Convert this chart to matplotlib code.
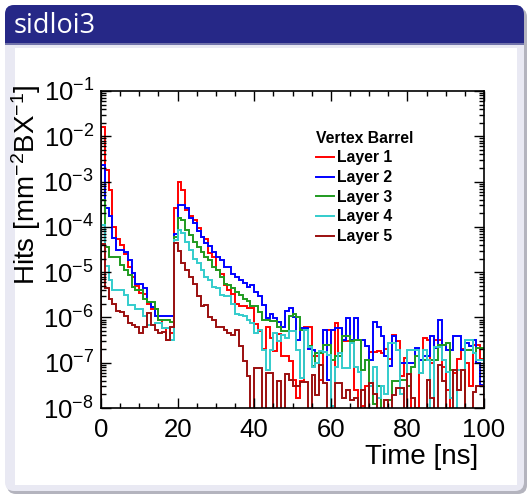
import numpy as np
import matplotlib
matplotlib.use("Agg")
import matplotlib.pyplot as plt
from matplotlib.patches import FancyBboxPatch, Rectangle
from matplotlib.transforms import IdentityTransform
from matplotlib.ticker import MultipleLocator, LogLocator, NullFormatter

# time bins, 1 ns each
bin_edges = list(range(0, 101))

layer_names = ["Layer 1", "Layer 2", "Layer 3", "Layer 4", "Layer 5"]
layer_colors = ["#ff0000", "#0000ff", "#1f9a1f", "#33cccc", "#9b0f0f"]

layer1 = [1.6e-2, 1.8e-3, 6.5e-4, 1.0e-4, 5.5e-5, 4.0e-5, 2.5e-5, 1.3e-5, 8.0e-6, 5.0e-6,
          3.5e-6, 3.3e-6, 2.0e-6, 1.5e-6, 1.5e-6, 8.7e-7, 5.8e-7, 3.2e-7, 4.5e-7, 2.6e-4,
          1.0e-3, 6.5e-4, 2.3e-4, 1.7e-4, 1.4e-4, 9.3e-5, 6.0e-5, 5.5e-5, 2.6e-5, 2.2e-5,
          1.1e-5, 9.0e-6, 5.2e-6, 4.0e-6, 3.3e-6, 2.0e-6, 1.8e-6, 1.8e-6, 1.6e-6, 1.6e-6,
          7.0e-7, 5.0e-7, 2.0e-7, 6.0e-7, 3.5e-7, 1.8e-7, 4.3e-7, 1.4e-7, 1.4e-7, 1.1e-7,
          4.2e-8, 1.7e-8, 4.0e-8, 6.0e-7, 6.0e-7, 1.4e-7, 1.4e-7, 4.2e-8, 5.2e-7, 5.2e-7,
          0, 7.5e-7, 1.4e-7, 3.0e-7, 3.0e-7, 3.0e-7, 2.5e-8, 0, 1.1e-8, 3.0e-8,
          1.7e-7, 1.7e-7, 1.8e-7, 1.6e-7, 2.0e-7, 1.2e-7, 4.0e-7, 3.0e-7, 5.0e-8, 1.3e-7,
          3.0e-8, 0, 1.0e-8, 6.0e-8, 3.5e-7, 3.2e-7, 1.0e-7, 3.2e-7, 3.2e-7, 8.0e-8,
          2.5e-8, 0, 6.0e-8, 1.2e-7, 2.0e-7, 1.0e-7, 3.0e-8, 2.5e-7, 2.5e-7, 1.2e-7]

layer2 = [2.3e-3, 2.6e-4, 1.7e-4, 5.6e-5, 3.1e-5, 3.1e-5, 2.8e-5, 1.9e-5, 9.5e-6, 5.6e-6,
          5.6e-6, 4.4e-6, 2.2e-6, 1.7e-6, 1.05e-6, 1.05e-6, 1.05e-6, 1.05e-6, 1.05e-6, 7.0e-5,
          3.0e-4, 3.0e-4, 2.6e-4, 1.55e-4, 1.2e-4, 8.0e-5, 6.0e-5, 4.4e-5, 3.7e-5, 2.8e-5,
          2.2e-5, 1.85e-5, 1.3e-5, 1.3e-5, 9.3e-6, 8.0e-6, 6.8e-6, 5.7e-6, 4.8e-6, 5.2e-6,
          3.7e-6, 2.9e-6, 1.9e-6, 9.5e-7, 1.2e-6, 9.5e-7, 8.0e-7, 6.3e-7, 1.4e-6, 1.6e-6,
          1.0e-6, 3.2e-7, 5.8e-7, 5.8e-7, 2.0e-7, 1.9e-7, 1.6e-7, 1.6e-7, 5.2e-7, 4.2e-8,
          5.2e-7, 5.8e-7, 5.8e-7, 3.2e-7, 9.5e-7, 3.2e-7, 9.5e-7, 3.2e-7, 3.2e-7, 2.3e-7,
          1.15e-7, 8.1e-7, 6.3e-7, 3.8e-7, 1.4e-7, 8.3e-8, 3.8e-7, 1.9e-7, 9.8e-8, 9.8e-8,
          9.8e-8, 9.8e-8, 2.1e-7, 1.15e-7, 1.4e-7, 1.4e-7, 3.8e-7, 2.1e-7, 8.9e-7, 2.5e-7,
          1.9e-7, 1.9e-7, 3.8e-7, 3.8e-7, 1.9e-7, 2.7e-7, 2.3e-7, 3.2e-7, 1.0e-7, 3.2e-8]

layer3 = [4.0e-4, 3.6e-5, 2.2e-5, 2.2e-5, 2.2e-5, 1.45e-5, 1.1e-5, 8.7e-6, 4.8e-6, 4.1e-6,
          4.1e-6, 2.5e-6, 2.2e-6, 2.2e-6, 1.5e-6, 8.7e-7, 8.7e-7, 9.0e-7, 8.0e-7, 6.0e-5,
          1.55e-4, 1.45e-4, 8.5e-5, 6.6e-5, 4.7e-5, 3.6e-5, 2.8e-5, 2.2e-5, 1.85e-5, 1.3e-5,
          1.1e-5, 8.0e-6, 5.6e-6, 5.2e-6, 4.4e-6, 3.7e-6, 3.2e-6, 2.5e-6, 2.3e-6, 1.75e-6,
          1.75e-6, 1.35e-6, 8.9e-7, 8.9e-7, 8.3e-7, 8.3e-7, 6.0e-7, 5.0e-7, 5.0e-7, 1.1e-6,
          1.2e-6, 1.0e-6, 5.2e-7, 5.2e-7, 2.3e-7, 8.3e-8, 1.6e-7, 1.6e-7, 2.5e-7, 2.5e-7,
          1.15e-7, 1.4e-7, 1.4e-7, 3.8e-7, 3.8e-7, 3.0e-7, 3.2e-7, 3.2e-7, 7.0e-8, 1.15e-7,
          3.0e-8, 1.2e-8, 3.0e-8, 0, 0, 1.5e-8, 4.0e-8, 4.0e-8, 4.2e-8, 4.2e-8,
          3.0e-8, 8.0e-8, 1.4e-7, 6.0e-8, 1.15e-7, 1.15e-7, 1.15e-7, 1.15e-7, 2.5e-7, 2.5e-7,
          2.7e-7, 7.0e-8, 0, 0, 0, 1.9e-7, 1.9e-7, 1.6e-7, 2.1e-7, 2.1e-7]

layer4 = [1.1e-4, 1.4e-5, 6.8e-6, 4.1e-6, 4.1e-6, 4.1e-6, 3.2e-6, 1.9e-6, 1.9e-6, 1.5e-6,
          1.5e-6, 1.05e-6, 6.8e-7, 6.8e-7, 7.4e-7, 7.4e-7, 5.8e-7, 5.8e-7, 3.2e-7, 5.1e-5,
          8.5e-5, 7.2e-5, 4.7e-5, 3.1e-5, 2.0e-5, 1.6e-5, 1.1e-5, 8.0e-6, 6.8e-6, 4.8e-6,
          4.4e-6, 3.2e-6, 2.9e-6, 2.9e-6, 2.0e-6, 1.2e-6, 1.15e-6, 1.05e-6, 8.8e-7, 7.4e-7,
          4.5e-7, 5.3e-7, 1.9e-7, 7.0e-8, 1.9e-7, 4.5e-7, 3.0e-7, 4.0e-7, 3.5e-7, 5.0e-7,
          5.0e-7, 1.9e-7, 4.5e-8, 5.2e-7, 2.2e-7, 8.0e-8, 9.8e-8, 1.8e-7, 1.7e-7, 1.5e-7,
          1.1e-8, 8.0e-8, 1.6e-7, 7.5e-8, 7.5e-8, 2.7e-7, 8.0e-8, 6.3e-8, 0, 0,
          3.0e-8, 8.0e-8, 1.7e-8, 3.0e-8, 2.0e-8, 2.7e-7, 2.7e-7, 1.9e-7, 2.0e-8, 0,
          1.9e-7, 1.9e-7, 1.9e-7, 6.0e-8, 1.9e-7, 1.15e-7, 0, 2.2e-7, 2.2e-7, 1.15e-7,
          6.3e-8, 1.7e-8, 0, 7.0e-8, 7.0e-8, 3.2e-7, 3.2e-7, 1.6e-7, 1.15e-7, 1.15e-7]

layer5 = [4.2e-5, 4.5e-6, 2.6e-6, 2.0e-6, 1.4e-6, 1.3e-6, 1.05e-6, 7.5e-7, 6.8e-7, 6.3e-7,
          4.5e-7, 6.3e-7, 1.25e-6, 6.8e-7, 5.2e-7, 4.5e-7, 4.8e-7, 3.2e-7, 6.3e-7, 4.4e-5,
          3.0e-5, 1.6e-5, 1.1e-5, 8.0e-6, 5.6e-6, 2.9e-6, 1.75e-6, 1.9e-6, 1.0e-6, 8.8e-7,
          6.3e-7, 6.3e-7, 5.2e-7, 4.5e-7, 4.1e-7, 5.2e-7, 2.3e-7, 1.1e-7, 5.0e-8, 0,
          7.5e-8, 7.5e-8, 0, 6.0e-8, 6.0e-8, 0, 4.0e-8, 0, 5.5e-8, 4.2e-8,
          3.0e-8, 3.0e-8, 3.8e-8, 3.8e-8, 0, 5.3e-8, 1.9e-8, 9.0e-8, 3.5e-8, 0,
          0, 3.5e-8, 3.5e-8, 1.7e-8, 2.5e-8, 1.5e-8, 1.7e-8, 0, 2.5e-8, 0,
          3.5e-8, 2.0e-8, 0, 0, 1.5e-8, 0, 1.9e-8, 2.8e-8, 2.8e-8, 0,
          5.7e-8, 1.7e-8, 0, 0, 0, 4.2e-8, 1.7e-8, 0, 9.0e-8, 4.0e-8,
          0, 0, 7.0e-8, 2.5e-8, 7.0e-8, 0, 0, 2.2e-8, 3.0e-8, 3.0e-8]

layers = [layer1, layer2, layer3, layer4, layer5]

plt.rcParams["font.family"] = ["Liberation Sans", "DejaVu Sans"]
plt.rcParams["mathtext.fontset"] = "custom"
plt.rcParams["mathtext.rm"] = "Liberation Sans"
plt.rcParams["mathtext.default"] = "regular"

W, H = 529, 496
fig = plt.figure(figsize=(W / 100, H / 100), dpi=100)
fig.patch.set_facecolor("white")


# beamer block drawn in pixel coords (y measured from top)
def px_box(x0, ytop, x1, ybot, color, r=0, z=-10):
    if r > 0:
        p = FancyBboxPatch((x0, H - ybot), x1 - x0, ybot - ytop,
                           boxstyle="round,pad=0,rounding_size=%d" % r,
                           fc=color, ec="none", transform=IdentityTransform(), zorder=z)
    else:
        p = Rectangle((x0, H - ybot), x1 - x0, ybot - ytop,
                      fc=color, ec="none", transform=IdentityTransform(), zorder=z)
    fig.add_artist(p)


px_box(7, 8, 527, 494, "#b4b4be", r=9, z=-12)      # shadow
px_box(5, 5, 524, 491, "#e9e9f3", r=9, z=-11)      # block body
px_box(5, 5, 524, 60, "#262887", r=9, z=-10)       # title bar
px_box(5, 44, 524, 62, "#e9e9f3", z=-9)
px_box(5, 43, 524, 45, "#7274ab", z=-9)
px_box(15, 48, 517, 485, "white", z=-8)            # inner panel
fig.text(14 / W, 1 - 26 / H, "sidloi3", color="white", fontsize=19.5,
         family=["Open Sans", "DejaVu Sans"], va="center", ha="left")

ax = fig.add_axes([101 / W, (H - 408) / H, 383 / W, 317 / H])
ax.set_facecolor("white")

for vals, name, col in zip(layers, layer_names, layer_colors):
    v = np.array(vals, dtype=float)
    v = np.where(v > 0, v, 1e-12)  # empty bins drop to the bottom like ROOT
    ax.stairs(v, bin_edges, baseline=1e-12, color=col, lw=1.4, label=name)

ax.set_yscale("log")
ax.set_xlim(0, 100)
ax.set_ylim(1e-8, 1e-1)

ax.xaxis.set_major_locator(MultipleLocator(20))
ax.xaxis.set_minor_locator(MultipleLocator(5))
ax.yaxis.set_major_locator(LogLocator(base=10, numticks=20))
ax.yaxis.set_minor_locator(LogLocator(base=10, subs=np.arange(2, 10), numticks=20))
ax.yaxis.set_minor_formatter(NullFormatter())

ax.tick_params(which="both", direction="in", top=True, right=True, labelsize=18.5, width=1.0)
ax.tick_params(which="major", length=7)
ax.tick_params(which="minor", length=3.6)
ax.tick_params(axis="x", pad=7)
ax.tick_params(axis="y", pad=5)
for s in ax.spines.values():
    s.set_linewidth(1.2)

ax.set_xlabel("Time [ns]", fontsize=20, loc="right")
ax.xaxis.set_label_coords(0.985, -0.115)
ax.set_ylabel("Hits [mm$^{-2}$BX$^{-1}$]", fontsize=20, loc="top")
ax.yaxis.set_label_coords(-0.152, 1.02)

ax.legend(title="Vertex Barrel", loc="upper left", bbox_to_anchor=(0.562, 0.875),
          frameon=False, prop={"weight": "bold", "size": 11.3},
          title_fontproperties={"weight": "bold", "size": 11.3}, alignment="left",
          handlelength=1.15, handletextpad=0.2, labelspacing=0.3,
          borderpad=0, borderaxespad=0)

fig.savefig("out.png", dpi=100)
